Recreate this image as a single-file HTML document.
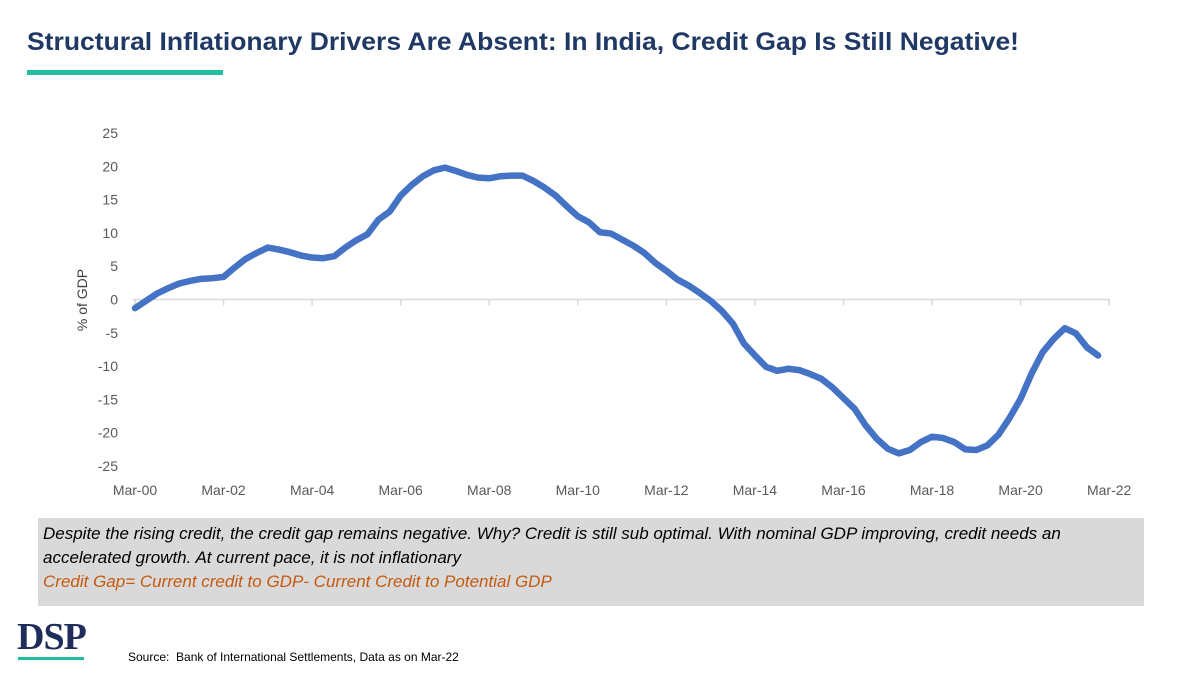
<!DOCTYPE html>
<html><head><meta charset="utf-8"><style>
body{margin:0;width:1200px;height:675px;background:#fff;position:relative;overflow:hidden;font-family:"Liberation Sans",sans-serif}
#title{position:absolute;left:27px;top:28px;font-size:25px;font-weight:bold;color:#1f3864;white-space:nowrap;transform-origin:0 0;transform:scaleX(1.06)}
#bar{position:absolute;left:27px;top:70px;width:196px;height:5px;background:#1fbfa0}
#note{position:absolute;left:38px;top:518px;width:1096px;height:80px;background:#d9d9d9;padding:4px 5px;font-style:italic;font-size:17px;line-height:24px;color:#000}
#note .o{color:#c55a11}
#logo{position:absolute;left:17px;top:615px;font-family:"Liberation Serif",serif;font-weight:bold;font-size:38px;color:#1f2d5a;letter-spacing:-1px}
#logoline{position:absolute;left:18px;top:657px;width:66px;height:3px;background:#1fbfa0}
#src{position:absolute;left:128px;top:650px;font-size:12px;color:#000}
</style></head><body>
<div id="title">Structural Inflationary Drivers Are Absent: In India, Credit Gap Is Still Negative!</div>
<div id="bar"></div>
<svg id="chart" width="1200" height="675" style="position:absolute;left:0;top:0"></svg>
<div id="note">Despite the rising credit, the credit gap remains negative. Why? Credit is still sub optimal. With nominal GDP improving, credit needs an accelerated growth. At current pace, it is not inflationary<br><span class="o">Credit Gap= Current credit to GDP- Current Credit to Potential GDP</span></div>
<div id="logo">DSP</div>
<div id="logoline"></div>
<div id="src">Source:&nbsp; Bank of International Settlements, Data as on Mar-22</div>
<script>
const creditGap=[-1.3,-0.2,0.9,1.7,2.4,2.8,3.1,3.2,3.4,4.8,6.1,7.0,7.8,7.5,7.1,6.6,6.3,6.2,6.5,7.8,8.9,9.8,12.0,13.2,15.6,17.2,18.5,19.4,19.8,19.3,18.7,18.3,18.2,18.5,18.6,18.6,17.8,16.8,15.6,14.0,12.5,11.6,10.1,9.9,9.0,8.1,7.0,5.5,4.3,3.0,2.1,1.0,-0.2,-1.7,-3.6,-6.6,-8.4,-10.1,-10.7,-10.4,-10.6,-11.2,-11.9,-13.2,-14.8,-16.4,-18.9,-20.9,-22.4,-23.1,-22.6,-21.4,-20.6,-20.8,-21.4,-22.5,-22.6,-21.9,-20.3,-17.8,-14.9,-11.1,-7.9,-5.9,-4.3,-5.1,-7.2,-8.4];
const xLabels=["Mar-00","Mar-02","Mar-04","Mar-06","Mar-08","Mar-10","Mar-12","Mar-14","Mar-16","Mar-18","Mar-20","Mar-22"];
const yTicks=[25,20,15,10,5,0,-5,-10,-15,-20,-25];
const NS="http://www.w3.org/2000/svg";
const svg=document.getElementById('chart');
const X=i=>135+i*11.07;
const Y=v=>299.5-v*6.66;
function mk(t,a){const e=document.createElementNS(NS,t);for(const k in a)e.setAttribute(k,a[k]);svg.appendChild(e);return e;}
const ax=mk('line',{x1:133,x2:1110,y1:Y(0),y2:Y(0),stroke:'#d9d9d9','stroke-width':1.5});


xLabels.forEach((l,k)=>{
  const x=X(k*8);
  const tk=mk('line',{x1:x,x2:x,y1:Y(0),y2:Y(0)+6,stroke:'#d9d9d9','stroke-width':1.5});
  
  
  const t=mk('text',{x:x,y:495,'text-anchor':'middle','font-size':14,fill:'#595959','font-family':'Liberation Sans, sans-serif'});
  t.textContent=l;
  
  
});
yTicks.forEach(v=>{
  const t=mk('text',{x:118,y:Y(v)+5,'text-anchor':'end','font-size':14,fill:'#595959','font-family':'Liberation Sans, sans-serif'});
  t.textContent=v;
  
  
});
const yt=mk('text',{x:0,y:0,transform:'translate(87,300) rotate(-90)','text-anchor':'middle','font-size':14,fill:'#404040','font-family':'Liberation Sans, sans-serif'});
yt.textContent='% of GDP';


const p=mk('polyline',{points:creditGap.map((v,i)=>X(i)+','+Y(v)).join(' '),fill:'none',stroke:'#4472c4','stroke-width':6.5,'stroke-linejoin':'round','stroke-linecap':'round'});


</script>
</body></html>
